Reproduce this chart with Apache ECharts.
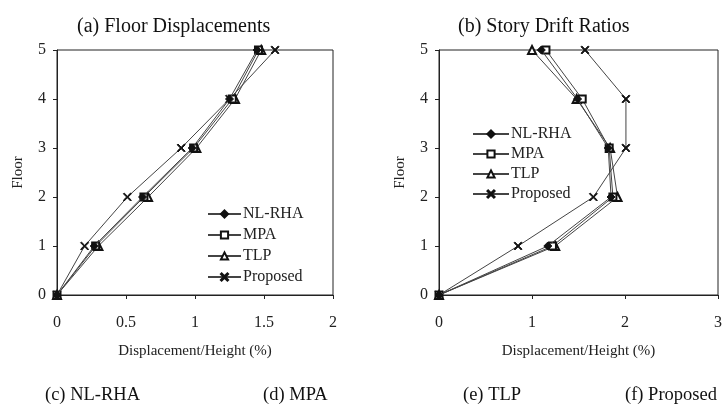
<!DOCTYPE html>
<html>
<head>
<meta charset="utf-8">
<script src="https://cdn.jsdelivr.net/npm/echarts@6/dist/echarts.min.js"></script>
<style>
  html, body { margin: 0; padding: 0; background: #fff; }
  #chart { width: 726px; height: 406px; }
</style>
</head>
<body>
<div id="chart"></div>
<script>
// floor levels (y values)
const floors = [0, 1, 2, 3, 4, 5]
const seriesNames = ['NL-RHA', 'MPA', 'TLP', 'Proposed']

// (a) floor displacements, % of height
const dispNLRHA = [0, 0.27, 0.62, 0.98, 1.25, 1.45]
const dispMPA = [0, 0.28, 0.63, 0.99, 1.27, 1.46]
const dispTLP = [0, 0.30, 0.66, 1.01, 1.29, 1.48]
const dispProposed = [0, 0.20, 0.51, 0.90, 1.25, 1.58]

// (b) story drift ratios, %
const driftNLRHA = [0, 1.17, 1.85, 1.82, 1.49, 1.10]
const driftMPA = [0, 1.22, 1.87, 1.83, 1.54, 1.15]
const driftTLP = [0, 1.25, 1.92, 1.84, 1.48, 1.00]
const driftProposed = [0, 0.85, 1.66, 2.01, 2.01, 1.57]

const captions = ['(c) NL-RHA', '(d) MPA', '(e) TLP', '(f) Proposed']

const serif = '"Liberation Serif", "DejaVu Serif", serif'
const xMark = 'path://M0,1L1,0L5,4L9,0L10,1L6,5L10,9L9,10L5,6L1,10L0,9L4,5Z'
const symbols = [
  { symbol: 'diamond', size: 8 },
  { symbol: 'emptyRect', size: 7 },
  { symbol: 'emptyTriangle', size: 8 },
  { symbol: xMark, size: 8 },
]

function pairs(xs) {
  return xs.map((x, i) => [x, floors[i]])
}

function makeSeries(values, idx) {
  return values.map((xs, i) => ({
    name: seriesNames[i],
    type: 'line',
    xAxisIndex: idx,
    yAxisIndex: idx,
    symbol: symbols[i].symbol,
    symbolSize: symbols[i].size,
    lineStyle: { color: '#444', width: 1 },
    itemStyle: { color: '#111', borderColor: '#111', borderWidth: 1 },
    data: pairs(xs),
    z: 10 - i,
  }))
}

function xAxisOf(idx, max, interval) {
  return {
    type: 'value',
    gridIndex: idx,
    min: 0,
    max: max,
    interval: interval,
    name: 'Displacement/Height (%)',
    nameLocation: 'middle',
    nameGap: 49,
    nameTextStyle: { fontFamily: serif, fontSize: 15, color: '#222' },
    axisLine: { show: true, lineStyle: { color: '#222' } },
    axisTick: { show: true, length: 4, lineStyle: { color: '#222' } },
    axisLabel: { fontFamily: serif, fontSize: 16, color: '#222', margin: 20 },
    splitLine: { show: false },
  }
}

function yAxisOf(idx) {
  return {
    type: 'value',
    gridIndex: idx,
    min: 0,
    max: 5,
    interval: 1,
    name: 'Floor',
    nameLocation: 'middle',
    nameRotate: 90,
    nameGap: 31,
    nameTextStyle: { fontFamily: serif, fontSize: 15, color: '#222' },
    axisLine: { show: true, lineStyle: { color: '#222' } },
    axisTick: { show: true, length: 4, lineStyle: { color: '#222' } },
    axisLabel: { fontFamily: serif, fontSize: 16, color: '#222', margin: 11 },
    splitLine: { show: false },
  }
}

function legendOf(left, top, gap, width) {
  return {
    orient: 'vertical',
    left: left,
    top: top,
    itemWidth: width,
    itemHeight: 9,
    itemGap: gap,
    data: seriesNames,
    textStyle: { fontFamily: serif, fontSize: 16, color: '#222', padding: [0, 0, 0, -3] },
  }
}

const myChart = echarts.init(document.getElementById('chart'))
myChart.setOption({
  animation: false,
  backgroundColor: '#fff',
  title: [
    { text: '(a) Floor Displacements', left: 72, top: 12,
      textStyle: { fontFamily: serif, fontSize: 20, fontWeight: 'normal', color: '#111' } },
    { text: '(b) Story Drift Ratios', left: 453, top: 12,
      textStyle: { fontFamily: serif, fontSize: 20, fontWeight: 'normal', color: '#111' } },
  ].concat(captions.map((c, i) => ({
    text: c,
    left: [40, 258, 458, 620][i],
    top: 381,
    textStyle: { fontFamily: serif, fontSize: 18.5, fontWeight: 'normal', color: '#111' },
  }))),
  grid: [
    { left: 57, top: 50, width: 276, height: 245, show: true, borderColor: '#222', borderWidth: 1 },
    { left: 439, top: 50, width: 279, height: 245, show: true, borderColor: '#222', borderWidth: 1 },
  ],
  legend: [
    legendOf(202, 201, 5, 33),
    legendOf(467, 121, 4, 36),
  ],
  xAxis: [xAxisOf(0, 2, 0.5), xAxisOf(1, 3, 1)],
  yAxis: [yAxisOf(0), yAxisOf(1)],
  series: makeSeries([dispNLRHA, dispMPA, dispTLP, dispProposed], 0)
    .concat(makeSeries([driftNLRHA, driftMPA, driftTLP, driftProposed], 1)),
})
</script>
</body>
</html>
